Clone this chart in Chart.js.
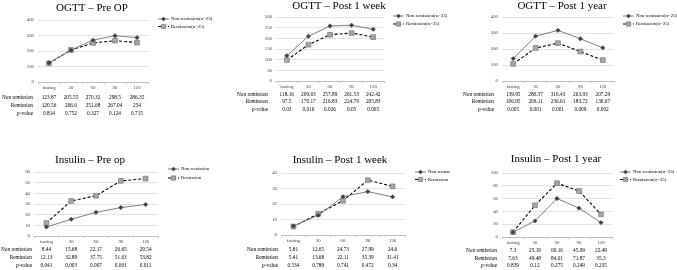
<!DOCTYPE html>
<html lang="en">
<head>
<meta charset="UTF-8">
<title>OGTT / Insulin - remission vs non remission</title>
<script src="https://cdn.jsdelivr.net/npm/chart.js"></script>
<style>
  html, body { margin: 0; padding: 0; background: #fff; }
  #wrap { position: relative; width: 677px; height: 270px; overflow: hidden; }
  #wrap canvas { position: absolute; }
</style>
</head>
<body>
<div id="wrap"></div>
<script>
// categories and table row names
const timePoints = ['fasting', '30', '60', '90', '120'];
const rowNames = ['Non remission', 'Remission', 'p-value'];

const titles = ['OGTT \u2013 Pre OP', 'OGTT \u2013 Post 1 week', 'OGTT \u2013 Post 1 year',
                'Insulin \u2013 Pre op', 'Insulin \u2013 Post 1 week', 'Insulin \u2013 Post 1 year'];
const legendNon = ['Non remission(n=23)', 'Non remission(n=23)', 'Non remission(n=23)',
                   'Non remission', 'Non remission', 'Non remission(n=23)'];
const legendRem = ['Remission(n=25)', 'Remission(n=25)', 'Remission(n=25)',
                   'Remission', 'Remission', 'Remission(n=25)'];

// y axis ticks
const yMax  = [400, 300, 400, 60, 40, 100];
const yStep = [100, 50, 100, 10, 10, 20];

// values
const ogttPreNon  = [123.87, 205.55, 270.32, 298.5, 286.35];
const ogttPreRem  = [120.56, 206.6, 251.68, 267.04, 254];
const ogttPreP    = [0.814, 0.752, 0.327, 0.124, 0.715];

const ogttWeekNon = [118.16, 209.63, 257.89, 261.53, 242.42];
const ogttWeekRem = [97.5, 170.17, 216.83, 224.79, 205.83];
const ogttWeekP   = [0.03, 0.016, 0.026, 0.05, 0.065];

const ogttYearNon = [139.95, 280.37, 316.43, 263.93, 207.29];
const ogttYearRem = [106.95, 206.11, 236.61, 183.72, 130.67];
const ogttYearP   = [0.005, 0.001, 0.001, 0.009, 0.002];

const insPreNon   = [8.44, 15.68, 22.17, 26.65, 29.54];
const insPreRem   = [12.13, 32.89, 37.75, 51.63, 53.82];
const insPreP     = [0.041, 0.003, 0.007, 0.001, 0.011];

const insWeekNon  = [5.81, 12.65, 24.73, 27.99, 24.6];
const insWeekRem  = [5.41, 13.68, 22.11, 35.39, 31.41];
const insWeekP    = [0.534, 0.789, 0.741, 0.472, 0.34];

const insYearNon  = [7.3, 25.19, 60.16, 45.09, 22.49];
const insYearRem  = [7.63, 49.48, 84.01, 71.87, 35.3];
const insYearP    = [0.839, 0.12, 0.275, 0.249, 0.235];

const nonSeries = [ogttPreNon, ogttWeekNon, ogttYearNon, insPreNon, insWeekNon, insYearNon];
const remSeries = [ogttPreRem, ogttWeekRem, ogttYearRem, insPreRem, insWeekRem, insYearRem];
const pSeries   = [ogttPreP, ogttWeekP, ogttYearP, insPreP, insWeekP, insYearP];

// layout of each panel (page pixels)
const boxes = [[0,0,225,135],[225,0,225,135],[450,0,227,135],
               [0,135,225,135],[225,135,225,135],[450,135,227,135]];
const areas = [[38,20,148,82],[276,17,384,81],[502,17,614,81],
               [34,172,158,236],[281,173,405,235],[502,173,612,237]];
const titlePos  = [[92,8],[339,6],[562,6],[90,160],[340,160],[556,159]];
const legendPos = [[158,19,7.5],[393,16,8],[623,16,8],[168,169,9],[415,172,7.5],[620,172,7.5]];
const rowRight  = [33, 268, 494, 32, 278, 497];
const rowTop    = [16, 13.3, 13.3, 14, 15, 13.7];

const YW = 16, XH = 10;
const FONT = '"Liberation Serif", "Times New Roman", serif';

const panelPlugin = {
  id: 'panel',
  afterDraw(chart, args, o) {
    const ctx = chart.ctx, xs = chart.scales.x, a = chart.chartArea;
    ctx.save();
    ctx.fillStyle = '#000';
    ctx.textBaseline = 'middle';

    // title
    ctx.font = '11px ' + FONT;
    ctx.textAlign = 'center';
    ctx.fillText(o.title, o.titleX, o.titleY);

    // data table under the axis
    ctx.font = '5.3px ' + FONT;
    o.rows.forEach((vals, r) => {
      const y = a.bottom + o.rowTop + r * 7.6;
      ctx.textAlign = 'right';
      if (r === 2) {
        ctx.fillText('-value', o.rowRight, y);
        const w = ctx.measureText('-value').width;
        ctx.font = 'italic 5.3px ' + FONT;
        ctx.fillText('p', o.rowRight - w, y);
        ctx.font = '5.3px ' + FONT;
      } else {
        ctx.fillText(rowNames[r], o.rowRight, y);
      }
      ctx.textAlign = 'center';
      vals.forEach((v, i) => ctx.fillText(String(v), xs.getPixelForValue(i), y));
    });

    // legend
    ctx.font = '4.8px ' + FONT;
    ctx.textAlign = 'left';
    chart.data.datasets.forEach((ds, i) => {
      const y = o.legendY + i * o.legendGap, lx = o.legendX;
      ctx.strokeStyle = ds.borderColor;
      ctx.lineWidth = ds.borderWidth;
      ctx.setLineDash(ds.borderDash || []);
      ctx.beginPath(); ctx.moveTo(lx, y); ctx.lineTo(lx + 11, y); ctx.stroke();
      ctx.setLineDash([]);
      ctx.fillStyle = ds.pointBackgroundColor;
      ctx.strokeStyle = ds.pointBorderColor;
      ctx.lineWidth = ds.pointBorderWidth;
      Chart.helpers.drawPoint(ctx, {pointStyle: ds.pointStyle, radius: ds.pointRadius * 0.9,
        rotation: 0, borderWidth: ds.pointBorderWidth}, lx + 5.5, y);
      ctx.fillStyle = '#000';
      ctx.fillText(ds.label, lx + 13, y);
    });
    ctx.restore();
  }
};

const wrap = document.getElementById('wrap');

boxes.forEach((b, k) => {
  const cv = document.createElement('canvas');
  cv.width = b[2]; cv.height = b[3];
  cv.style.left = b[0] + 'px'; cv.style.top = b[1] + 'px';
  cv.style.width = b[2] + 'px'; cv.style.height = b[3] + 'px';
  wrap.appendChild(cv);

  const ar = areas[k];
  // wanted plot area inside this canvas
  const want = { left: ar[0] - b[0], top: ar[1] - b[1], right: ar[2] - b[0], bottom: ar[3] - b[1] };

  new Chart(cv, {
    type: 'line',
    data: {
      labels: timePoints,
      datasets: [{
        label: legendNon[k],
        data: nonSeries[k],
        borderColor: '#7f7f7f',
        borderWidth: 1,
        pointStyle: 'rectRot',
        pointRadius: 2.2,
        pointBackgroundColor: '#404040',
        pointBorderColor: '#404040',
        pointBorderWidth: 0.5
      }, {
        label: legendRem[k],
        data: remSeries[k],
        borderColor: '#000',
        borderWidth: 1.1,
        borderDash: [3, 2],
        pointStyle: 'rect',
        pointRadius: 3.4,
        pointBackgroundColor: '#a6a6a6',
        pointBorderColor: '#6f6f6f',
        pointBorderWidth: 0.6
      }]
    },
    options: {
      responsive: false,
      animation: false,
      devicePixelRatio: 1,
      layout: {
        padding: {
          left: want.left - YW,
          top: want.top,
          right: b[2] - want.right,
          bottom: b[3] - want.bottom - XH
        }
      },
      scales: {
        x: {
          type: 'category',
          offset: true,
          afterFit(s) { s.height = XH; },
          grid: { display: true, drawOnChartArea: false, drawTicks: true, tickLength: 2, color: '#bfbfbf', offset: true },
          border: { display: true, color: '#bfbfbf', width: 1 },
          ticks: { color: '#404040', padding: 1, font: { family: FONT, size: 4.8 }, maxRotation: 0, autoSkip: false }
        },
        y: {
          min: 0,
          max: yMax[k],
          afterFit(s) { s.width = YW; },
          grid: { color: '#dcdcdc', drawTicks: false, lineWidth: 0.8 },
          border: { display: false },
          ticks: { stepSize: yStep[k], color: '#404040', padding: 4, font: { family: FONT, size: 4.8 } }
        }
      },
      plugins: {
        legend: { display: false },
        title: { display: false },
        tooltip: { enabled: false },
        panel: {
          title: titles[k],
          titleX: titlePos[k][0] - b[0], titleY: titlePos[k][1] - b[1],
          legendX: legendPos[k][0] - b[0], legendY: legendPos[k][1] - b[1], legendGap: legendPos[k][2],
          rowRight: rowRight[k] - b[0], rowTop: rowTop[k],
          rows: [nonSeries[k], remSeries[k], pSeries[k]]
        }
      }
    },
    plugins: [panelPlugin]
  });
});
</script>
</body>
</html>
